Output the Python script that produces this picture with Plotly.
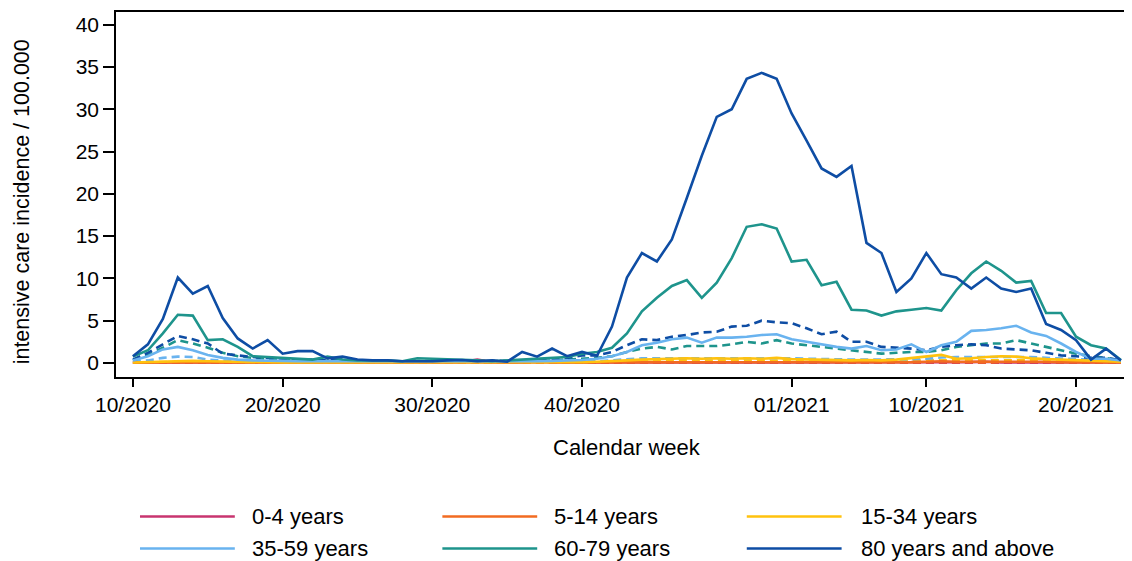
import plotly.graph_objects as go

weeks = [f"{w:02d}/2020" for w in range(10, 54)] + [f"{w:02d}/2021" for w in range(1, 24)]
tick_weeks = ["10/2020", "20/2020", "30/2020", "40/2020", "01/2021", "10/2021", "20/2021"]
tick_labels = ["10/2020", "20/2020", "30/2020", "40/2020", "01/2021", "10/2021", "20/2021"]

groups = ["0-4 years", "5-14 years", "15-34 years", "35-59 years", "60-79 years", "80 years and above"]
colors = ["#C8346F", "#F26B21", "#FFC20E", "#69B3EF", "#1E948C", "#0E4DA4"]

# solid lines
age_0_4 = [0.05, 0.05, 0.05, 0.05, 0.05, 0.05, 0.05, 0.05, 0.05, 0.05, 0.05, 0.05, 0.05, 0.05, 0.05, 0.05,
           0.05, 0.05, 0.05, 0.05, 0.05, 0.05, 0.1, 0.4, 0.1, 0.05, 0.05, 0.3, 0.05, 0.05, 0.05, 0.05,
           0.05, 0.05, 0.05, 0.05, 0.05, 0.05, 0.05, 0.05, 0.05, 0.05, 0.05, 0.05, 0.05, 0.05, 0.05, 0.05,
           0.05, 0.05, 0.05, 0.05, 0.05, 0.05, 0.05, 0.05, 0.1, 0.15, 0.05, 0.05, 0.05, 0.05, 0.05, 0.05,
           0.05, 0.05, 0.05]
age_5_14 = [0.02, 0.05, 0.1, 0.1, 0.1, 0.05, 0.05, 0.05, 0.03, 0.03, 0.03, 0.03, 0.03, 0.03, 0.03, 0.03,
            0.03, 0.03, 0.03, 0.03, 0.03, 0.03, 0.03, 0.03, 0.03, 0.03, 0.03, 0.03, 0.03, 0.05, 0.05, 0.05,
            0.05, 0.05, 0.08, 0.08, 0.1, 0.1, 0.08, 0.1, 0.1, 0.1, 0.1, 0.1, 0.08, 0.08, 0.08, 0.08,
            0.08, 0.08, 0.08, 0.1, 0.1, 0.15, 0.2, 0.15, 0.15, 0.15, 0.2, 0.15, 0.15, 0.15, 0.1, 0.1,
            0.1, 0.1, 0.05]
age_15_34 = [0.05, 0.1, 0.2, 0.25, 0.25, 0.2, 0.15, 0.1, 0.08, 0.08, 0.05, 0.05, 0.05, 0.05, 0.05, 0.05,
             0.05, 0.05, 0.05, 0.05, 0.05, 0.05, 0.05, 0.05, 0.05, 0.05, 0.05, 0.08, 0.08, 0.1, 0.1, 0.15,
             0.2, 0.3, 0.4, 0.45, 0.5, 0.55, 0.5, 0.55, 0.5, 0.55, 0.5, 0.6, 0.45, 0.4, 0.35, 0.35,
             0.3, 0.35, 0.3, 0.4, 0.6, 0.75, 0.95, 0.5, 0.55, 0.7, 0.8, 0.75, 0.55, 0.45, 0.4, 0.3,
             0.25, 0.2, 0.15]
age_35_59 = [0.3, 0.8, 1.6, 1.9, 1.5, 0.95, 0.6, 0.4, 0.3, 0.3, 0.25, 0.2, 0.2, 0.2, 0.15, 0.15,
             0.15, 0.15, 0.15, 0.15, 0.15, 0.15, 0.15, 0.15, 0.15, 0.15, 0.2, 0.2, 0.25, 0.3, 0.35, 0.5,
             0.8, 1.3, 2.1, 2.4, 2.8, 3.0, 2.4, 3.0, 3.0, 3.1, 3.3, 3.4, 2.8, 2.5, 2.2, 1.9,
             1.7, 2.0, 1.5, 1.6, 2.2, 1.3, 2.1, 2.5, 3.8, 3.9, 4.1, 4.4, 3.6, 3.2, 2.3, 1.3,
             0.5, 0.5, 0.3]
age_60_79 = [0.75, 1.5, 3.5, 5.7, 5.6, 2.7, 2.8, 1.9, 0.8, 0.7, 0.6, 0.5, 0.4, 0.75, 0.4, 0.3,
             0.3, 0.3, 0.2, 0.55, 0.5, 0.45, 0.35, 0.3, 0.2, 0.3, 0.4, 0.5, 0.6, 0.7, 1.1, 1.3,
             1.8, 3.5, 6.1, 7.7, 9.1, 9.8, 7.7, 9.5, 12.4, 16.1, 16.4, 15.9, 12.0, 12.2, 9.2, 9.6,
             6.3, 6.2, 5.6, 6.1, 6.3, 6.5, 6.2, 8.6, 10.6, 12.0, 10.9, 9.5, 9.7, 5.9, 5.9, 3.1,
             2.1, 1.7, 0.35]
age_80 = [0.8, 2.2, 5.2, 10.1, 8.2, 9.1, 5.3, 2.9, 1.7, 2.7, 1.1, 1.4, 1.4, 0.55, 0.75, 0.4,
          0.3, 0.3, 0.2, 0.2, 0.2, 0.3, 0.35, 0.2, 0.3, 0.15, 1.3, 0.75, 1.7, 0.8, 1.3, 0.85,
          4.3, 10.1, 13.0, 12.0, 14.6, 19.5, 24.5, 29.1, 30.0, 33.6, 34.3, 33.6, 29.5, 26.3, 23.0, 22.0,
          23.3, 14.2, 13.0, 8.4, 10.0, 13.0, 10.5, 10.1, 8.8, 10.1, 8.8, 8.4, 8.8, 4.6, 3.9, 2.7,
          0.4, 1.7, 0.3]

# dashed lines
age_0_4_d = [0.02] * 67
age_5_14_d = [0.02, 0.05, 0.08, 0.1, 0.08, 0.05, 0.05, 0.03, 0.03, 0.03, 0.03, 0.03, 0.03, 0.03, 0.03, 0.03,
              0.03, 0.03, 0.03, 0.03, 0.03, 0.03, 0.03, 0.03, 0.03, 0.03, 0.03, 0.03, 0.03, 0.03, 0.05, 0.05,
              0.05, 0.08, 0.08, 0.08, 0.1, 0.1, 0.1, 0.1, 0.1, 0.1, 0.1, 0.1, 0.08, 0.08, 0.08, 0.08,
              0.08, 0.08, 0.08, 0.08, 0.1, 0.1, 0.1, 0.1, 0.1, 0.1, 0.1, 0.1, 0.1, 0.08, 0.08, 0.05,
              0.05, 0.05, 0.03]
age_15_34_d = [0.05, 0.08, 0.12, 0.15, 0.15, 0.12, 0.1, 0.08, 0.05, 0.05, 0.05, 0.05, 0.05, 0.05, 0.05, 0.05,
               0.05, 0.05, 0.05, 0.05, 0.05, 0.05, 0.05, 0.05, 0.05, 0.05, 0.05, 0.05, 0.08, 0.08, 0.1, 0.1,
               0.15, 0.2, 0.25, 0.25, 0.3, 0.3, 0.3, 0.3, 0.3, 0.3, 0.3, 0.3, 0.25, 0.25, 0.2, 0.2,
               0.2, 0.2, 0.2, 0.2, 0.25, 0.3, 0.3, 0.3, 0.35, 0.35, 0.35, 0.35, 0.3, 0.3, 0.25, 0.2,
               0.15, 0.15, 0.1]
age_35_59_d = [0.15, 0.3, 0.6, 0.75, 0.7, 0.4, 0.3, 0.2, 0.15, 0.15, 0.1, 0.1, 0.1, 0.1, 0.1, 0.1,
               0.1, 0.1, 0.1, 0.1, 0.1, 0.1, 0.1, 0.1, 0.1, 0.1, 0.1, 0.1, 0.1, 0.15, 0.15, 0.2,
               0.3, 0.45, 0.55, 0.55, 0.55, 0.6, 0.55, 0.6, 0.6, 0.6, 0.55, 0.55, 0.55, 0.5, 0.45, 0.45,
               0.4, 0.4, 0.4, 0.4, 0.45, 0.5, 0.65, 0.7, 0.7, 0.7, 0.75, 0.75, 0.7, 0.6, 0.5, 0.45,
               0.4, 0.3, 0.25]
age_60_79_d = [0.3, 0.9, 1.8, 2.7, 2.3, 1.8, 1.2, 0.8, 0.6, 0.5, 0.4, 0.3, 0.3, 0.25, 0.25, 0.2,
               0.2, 0.2, 0.2, 0.2, 0.2, 0.2, 0.2, 0.2, 0.2, 0.2, 0.25, 0.25, 0.3, 0.4, 0.5, 0.6,
               0.8, 1.3, 1.7, 1.9, 1.6, 2.0, 2.0, 2.0, 2.2, 2.5, 2.3, 2.7, 2.3, 2.1, 1.9, 1.7,
               1.5, 1.3, 1.1, 1.2, 1.3, 1.3, 1.5, 1.9, 2.1, 2.3, 2.3, 2.7, 2.3, 1.9, 1.5, 1.1,
               0.8, 0.6, 0.3]
age_80_d = [0.4, 1.2, 2.2, 3.2, 2.8, 2.3, 1.1, 0.9, 0.7, 0.6, 0.5, 0.4, 0.4, 0.3, 0.3, 0.25,
            0.2, 0.2, 0.2, 0.2, 0.2, 0.2, 0.2, 0.2, 0.2, 0.25, 0.3, 0.3, 0.4, 0.6, 0.9, 0.9,
            1.3, 2.1, 2.8, 2.7, 3.1, 3.3, 3.6, 3.7, 4.3, 4.4, 5.0, 4.8, 4.7, 4.1, 3.4, 3.7,
            2.5, 2.5, 1.9, 1.8, 1.7, 1.5, 1.9, 2.1, 2.2, 2.1, 1.7, 1.6, 1.5, 1.2, 0.9, 0.8,
            0.6, 0.6, 0.3]

solid = [age_0_4, age_5_14, age_15_34, age_35_59, age_60_79, age_80]
dashed = [age_0_4_d, age_5_14_d, age_15_34_d, age_35_59_d, age_60_79_d, age_80_d]

FONT = "Liberation Sans, Arial, sans-serif"
fig = go.Figure()

for name, col, vals in zip(groups, colors, dashed):
    fig.add_trace(go.Scatter(x=weeks, y=vals, mode="lines", name=name + " (dashed)",
                             line=dict(color=col, width=2.6, dash="8px,5px"), showlegend=False))
for name, col, vals in zip(groups, colors, solid):
    fig.add_trace(go.Scatter(x=weeks, y=vals, mode="lines", name=name,
                             line=dict(color=col, width=2.6), showlegend=False))

# custom legend (line samples + labels) in paper coordinates
leg_x0 = [0.0237, 0.3225, 0.6233]
leg_x1 = [0.1174, 0.4162, 0.7170]
leg_tx = [0.1321, 0.4310, 0.7337]
leg_y = [-0.382, -0.470]
for i, (name, col) in enumerate(zip(groups, colors)):
    r, c = divmod(i, 3)
    fig.add_shape(type="line", xref="paper", yref="paper", x0=leg_x0[c], x1=leg_x1[c],
                  y0=leg_y[r], y1=leg_y[r], line=dict(color=col, width=2.6))
    fig.add_annotation(xref="paper", yref="paper", x=leg_tx[c], y=leg_y[r], text=name,
                       showarrow=False, xanchor="left", yanchor="middle",
                       font=dict(family=FONT, size=22, color="#000"))

# axis titles
fig.add_annotation(xref="paper", yref="paper", x=-0.0927, y=0.479, text="intensive care incidence / 100.000",
                   textangle=-90, showarrow=False, xanchor="center", yanchor="middle",
                   font=dict(family=FONT, size=21.5, color="#000"))
fig.add_annotation(xref="paper", yref="paper", x=0.505, y=-0.192, text="Calendar week",
                   showarrow=False, xanchor="center", yanchor="middle",
                   font=dict(family=FONT, size=22, color="#000"))

fig.update_layout(
    width=1124, height=553,
    margin=dict(l=108, r=2, t=4, b=184),
    paper_bgcolor="white", plot_bgcolor="white",
    font=dict(family=FONT, size=21, color="#000"),
    showlegend=False,
)
fig.update_xaxes(
    type="category", range=[-1.13, 66.47],
    tickmode="array", tickvals=tick_weeks, ticktext=tick_labels,
    ticks="outside", ticklen=8, tickwidth=1.5, tickcolor="#000",
    showline=True, linewidth=1.5, linecolor="#000", mirror=True,
    showgrid=False, zeroline=False,
    tickfont=dict(size=21),
)
fig.update_yaxes(
    range=[-1.66, 41.5], tickmode="array", tickvals=[0, 5, 10, 15, 20, 25, 30, 35, 40],
    ticks="outside", ticklen=11, tickwidth=1.5, tickcolor="#000",
    showline=True, linewidth=1.5, linecolor="#000", mirror=True,
    showgrid=False, zeroline=False,
    tickfont=dict(size=21),
)

fig.write_html("out.html")
